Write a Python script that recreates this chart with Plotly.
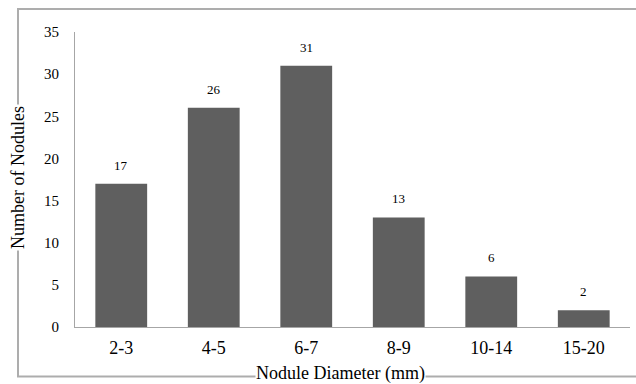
import plotly.graph_objects as go

categories = ["2-3", "4-5", "6-7", "8-9", "10-14", "15-20"]
counts = [17, 26, 31, 13, 6, 2]
y_ticks = [0, 5, 10, 15, 20, 25, 30, 35]

FONT = "Liberation Serif, Times New Roman, serif"
BAR = "#5f5f5f"
AXIS = "#a6a6a6"

# plot area in pixels
L, R, T, B = 75, 630, 32, 327
W, H = 636, 384
pw, ph = R - L, B - T

def px_x(x):
    return (x - L) / pw

def px_y(y):
    return (B - y) / ph

fig = go.Figure()
fig.add_trace(go.Bar(x=categories, y=counts, marker=dict(color=BAR, line=dict(width=0)),
                     hoverinfo="skip"))

for c, v in zip(categories, counts):
    fig.add_annotation(x=c, y=v, text=str(v), showarrow=False, yanchor="bottom",
                       yshift=9, font=dict(family=FONT, size=13, color="#000000"))

# outer frame
fig.add_shape(type="rect", xref="paper", yref="paper",
              x0=px_x(18), x1=px_x(645), y0=px_y(376.5), y1=px_y(9),
              line=dict(color="#adadad", width=2), fillcolor="rgba(0,0,0,0)", layer="below")

# axis titles with white background to break the frame
fig.add_annotation(xref="paper", yref="paper", x=px_x(340), y=px_y(373.5),
                   text="Nodule Diameter (mm)", showarrow=False, xanchor="center", yanchor="middle",
                   bgcolor="#ffffff", borderpad=0,
                   font=dict(family=FONT, size=18, color="#000000"))
fig.add_annotation(xref="paper", yref="paper", x=px_x(18), y=px_y(178),
                   text="Number of Nodules", showarrow=False, textangle=-90,
                   xanchor="center", yanchor="middle", bgcolor="#ffffff", borderpad=1,
                   font=dict(family=FONT, size=18, color="#000000"))

fig.update_layout(
    width=W, height=H,
    margin=dict(l=L, r=W - R, t=T, b=H - B, pad=0),
    paper_bgcolor="#ffffff", plot_bgcolor="rgba(0,0,0,0)",
    bargap=0.44, showlegend=False,
    font=dict(family=FONT, color="#000000"),
)
fig.update_xaxes(showline=True, linecolor=AXIS, linewidth=1, showgrid=False, ticks="",
                 tickfont=dict(family=FONT, size=18, color="#000000"), ticklabelstandoff=4,
                 zeroline=False)
fig.update_yaxes(range=[0, 35], tickvals=y_ticks, showline=True, linecolor=AXIS, linewidth=1,
                 showgrid=False, ticks="", zeroline=False,
                 tickfont=dict(family=FONT, size=15, color="#000000"), ticklabelstandoff=12)

fig.write_html("out.html")
